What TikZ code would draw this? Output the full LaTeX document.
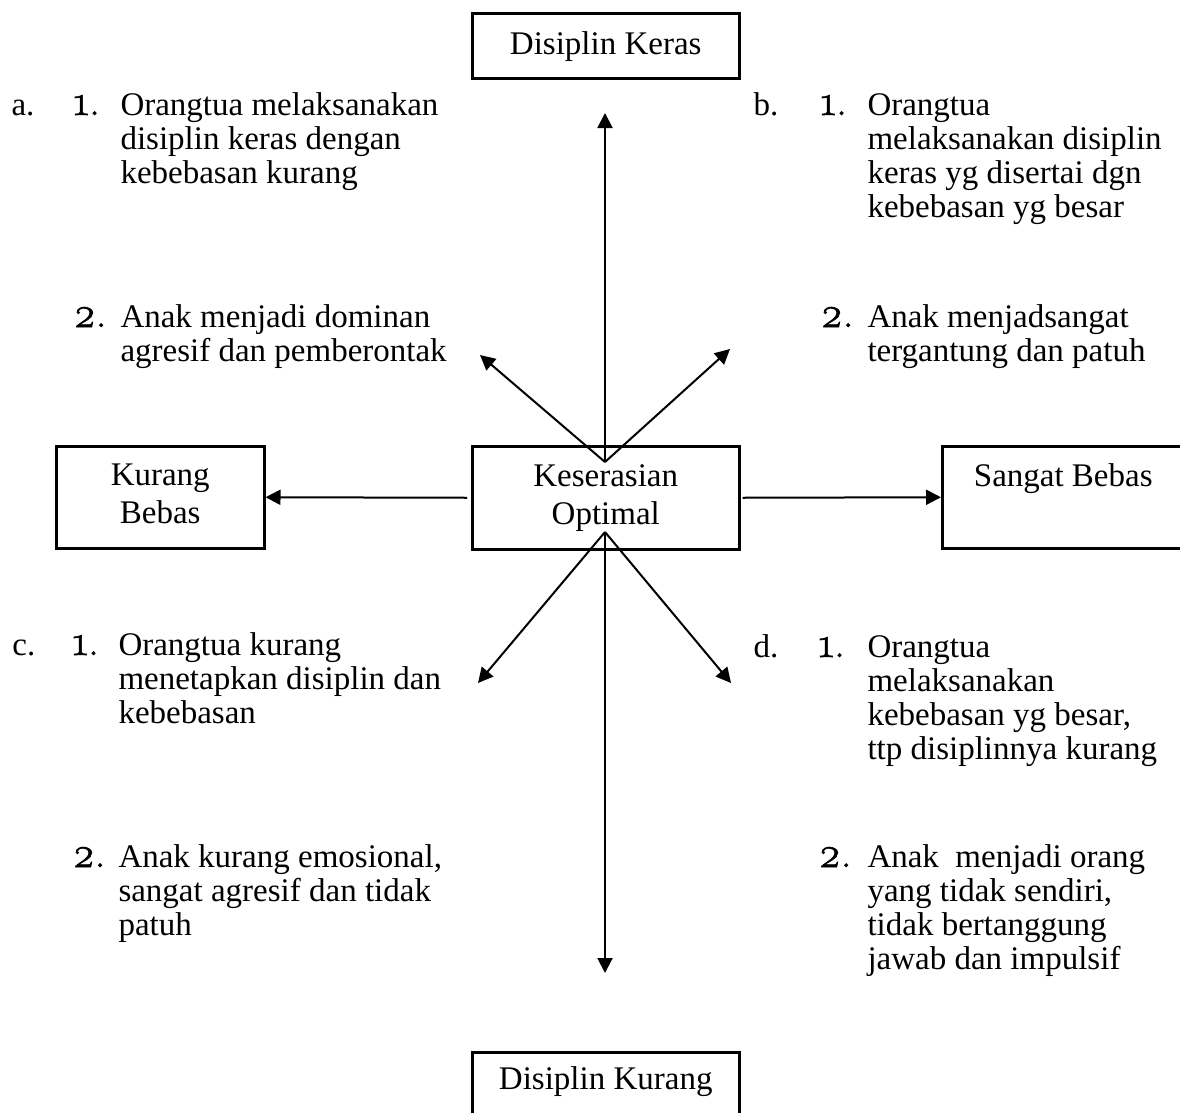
\documentclass[tikz,border=0pt]{standalone}
\usepackage{fontspec}
\setmainfont{Liberation Serif}
\newfontfamily\angka{Latin Modern Roman}[Numbers=OldStyle,Scale=1.3,FakeBold=1.5]
\usetikzlibrary{arrows.meta}
\begin{document}
\begin{tikzpicture}[x=0.4pt,y=-0.4pt]
\tikzstyle{kotak} = [draw,line width=1pt,inner sep=0pt,anchor=north west,align=center,font=\fontsize{13.2}{15.2}\selectfont]
\tikzstyle{teks} = [anchor=base west,inner sep=0pt,align=left,font=\fontsize{13.2}{13.6}\selectfont]
\tikzstyle{panah} = [line width=0.8pt,-{Triangle[length=6pt,width=6pt]}]
\useasboundingbox (0,0) rectangle (1180,1113);
	% kotak
	\node[kotak,minimum width=106.8pt,text height=16.4pt,text depth=9.6pt] (dk) at (471,12) {Disiplin Keras};
	\node[kotak,minimum width=83.2pt,text height=30.8pt,text depth=10pt] (kb) at (55,445) {Kurang\\Bebas};
	\node[kotak,minimum width=106.8pt,text height=31.2pt,text depth=10pt] (ko) at (471,445) {Keserasian\\Optimal};
	\node[kotak,minimum width=96.8pt,text height=16pt,text depth=24.8pt] (sb) at (941,445) {Sangat Bebas};
	\node[kotak,minimum width=106.8pt,text height=14.8pt,text depth=11.2pt] (dkr) at (471,1051) {Disiplin Kurang};
	% panah
	\coordinate (pa) at (605,462);
	\coordinate (pb) at (605,532);
	\coordinate (ua) at (605,113);
	\coordinate (uki) at (480,355);
	\coordinate (uka) at (730,349);
	\coordinate (ub) at (605,973);
	\coordinate (bki) at (478,683);
	\coordinate (bka) at (731,683);
	\draw[panah] (pa) -- (ua);
	\draw[panah] (pa) -- (uki);
	\draw[panah] (pa) -- (uka);
	\draw[panah] (pb) -- (ub);
	\draw[panah] (pb) -- (bki);
	\draw[panah] (pb) -- (bka);
	\draw[panah] ([xshift=-1.6pt]ko.west) -- (kb.east);
	\draw[panah] ([xshift=0.8pt]ko.east) -- (sb.west);
	% a (teks: base = baris terakhir)
	\node[teks] (ha) at (11,115) {a.};
	\node[teks] (na1) at (73,115) {\angka 1.};
	\node[teks] (ta1) at (120,183) {Orangtua melaksanakan\\disiplin keras dengan\\kebebasan kurang};
	\node[teks] (na2) at (73,327) {\angka 2.};
	\node[teks] (ta2) at (120,361) {Anak menjadi dominan\\agresif dan pemberontak};
	% b
	\node[teks] (hb) at (753,115) {b.};
	\node[teks] (nb1) at (820,115) {\angka 1.};
	\node[teks] (tb1) at (867,217) {Orangtua\\melaksanakan disiplin\\keras yg disertai dgn\\kebebasan yg besar};
	\node[teks] (nb2) at (820,327) {\angka 2.};
	\node[teks] (tb2) at (867,361) {Anak menjadsangat\\tergantung dan patuh};
	% c
	\node[teks] (hc) at (12,655) {c.};
	\node[teks] (nc1) at (72,655) {\angka 1.};
	\node[teks] (tc1) at (118,723) {Orangtua kurang\\menetapkan disiplin dan\\kebebasan};
	\node[teks] (nc2) at (72,867) {\angka 2.};
	\node[teks] (tc2) at (118,935) {Anak kurang emosional,\\sangat agresif dan tidak\\patuh};
	% d
	\node[teks] (hd) at (753,657) {d.};
	\node[teks] (nd1) at (818,657) {\angka 1.};
	\node[teks] (td1) at (867,759) {Orangtua\\melaksanakan\\kebebasan yg besar,\\ttp disiplinnya kurang};
	\node[teks] (nd2) at (818,867) {\angka 2.};
	\node[teks] (td2) at (867,969) {Anak\ \ menjadi orang\\yang tidak sendiri,\\tidak bertanggung\\jawab dan impulsif};
\end{tikzpicture}
\end{document}
